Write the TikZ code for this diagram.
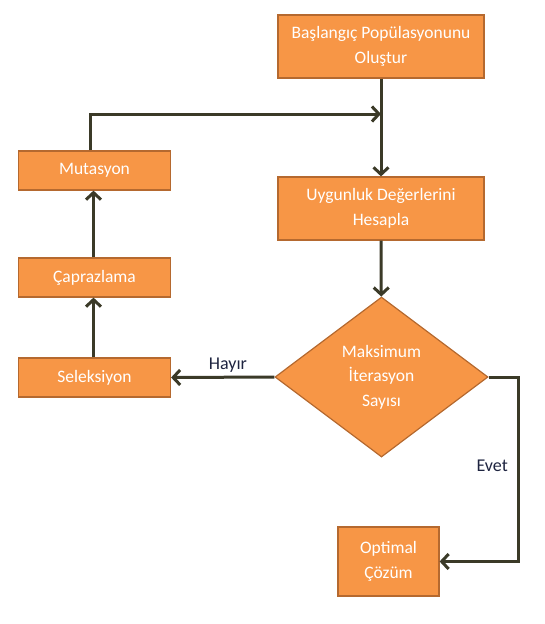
\documentclass[tikz,border=0pt]{standalone}
\usepackage{fontspec}
\setmainfont{Carlito}
\usetikzlibrary{shapes.geometric, arrows.meta, positioning}
\definecolor{turuncu}{HTML}{F79646}
\definecolor{kenarrengi}{HTML}{B5692F}
\definecolor{okrengi}{HTML}{3B3A28}
\definecolor{yazirengi}{HTML}{1E2440}

\begin{document}
\begin{tikzpicture}[x=1pt, y=-1pt,
    kutu/.style={draw=kenarrengi, fill=turuncu, line width=1.2pt, text=white,
      font=\fontsize{17.5}{24.5}\selectfont, align=center, inner sep=0pt},
    karar/.style={kutu, diamond, shape aspect=1.33},
    ok/.style={draw=okrengi, line width=3pt,
      -{Straight Barb[length=7pt, width=15pt, line width=3pt]}},
    etiket/.style={text=yazirengi, font=\fontsize{18}{20}\selectfont}]
  \useasboundingbox (0,0) rectangle (545,624);

  % kutular
  \node[kutu, minimum width=206pt, minimum height=63pt] (baslangic) at (381,46.5)
    {Başlangıç Popülasyonunu\\Oluştur};
  \node[kutu, minimum width=206pt, minimum height=63pt] (uygunluk) at (381,208.5)
    {Uygunluk Değerlerini\\Hesapla};
  \node[karar, minimum width=213pt, minimum height=160pt] (maks) at (381.5,377)
    {Maksimum\\İterasyon\\Sayısı};
  \node[kutu, minimum width=101pt, minimum height=69pt] (optimal) at (388.5,561.5)
    {Optimal\\Çözüm};
  \node[kutu, minimum width=152pt, minimum height=39pt] (mutasyon) at (94.5,170.5)
    {Mutasyon};
  \node[kutu, minimum width=152pt, minimum height=39pt] (caprazlama) at (94.5,277.5)
    {Çaprazlama};
  \node[kutu, minimum width=152pt, minimum height=39pt] (seleksiyon) at (94.5,377.5)
    {Seleksiyon};

  % oklar
  \coordinate (birlesme) at (baslangic.south |- 0,114);
  \draw[ok] (baslangic) -- (uygunluk);
  \draw[ok] ([xshift=-4pt]mutasyon.north) |- (birlesme);
  \draw[ok] (uygunluk) -- (maks);
  \draw[ok] (maks.west) -- node[etiket, above, pos=0.45] {Hayır} (seleksiyon.east);
  \draw[ok] ([xshift=-1pt]seleksiyon.north) -- ([xshift=-1pt]caprazlama.south);
  \draw[ok] ([xshift=-1pt]caprazlama.north) -- ([xshift=-1pt]mutasyon.south);
  \draw[ok] (maks.east) -- ++(30,0) |- node[etiket, left=6pt, pos=0.24] {Evet} (optimal.east);
\end{tikzpicture}
\end{document}
